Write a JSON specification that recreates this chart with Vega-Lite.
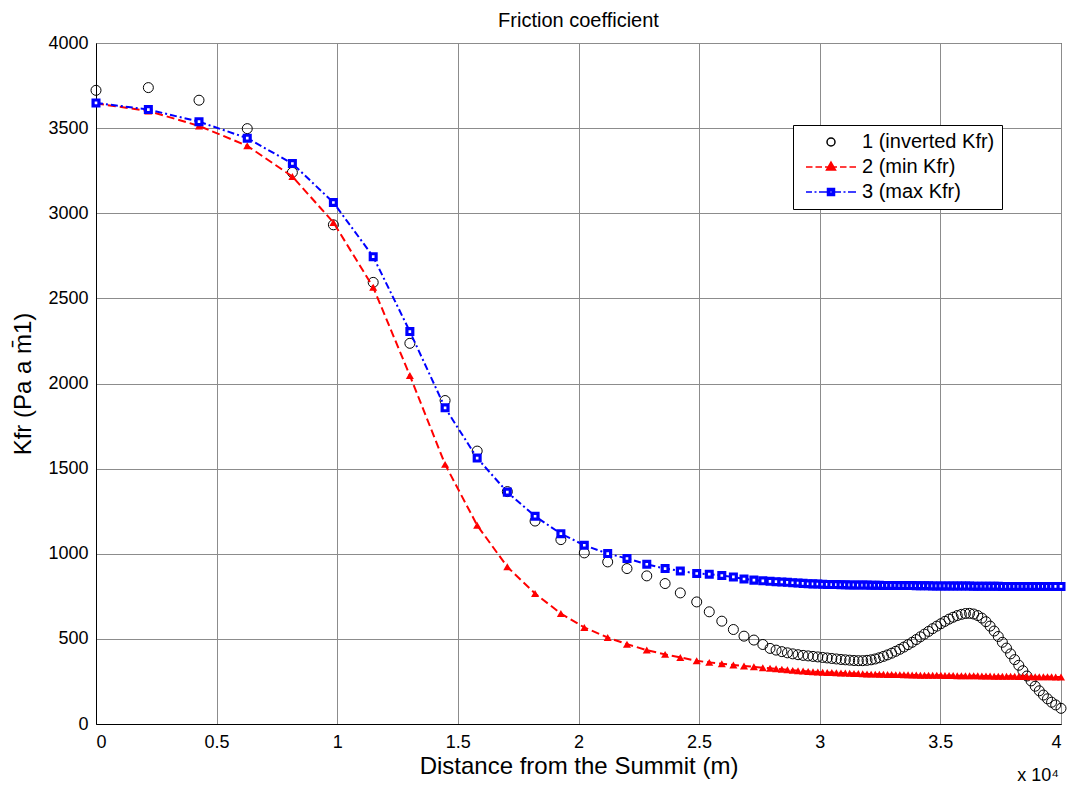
{
  "$schema": "https://vega.github.io/schema/vega-lite/v6.json",
  "width": 965,
  "height": 681,
  "autosize": {"type": "none"},
  "padding": {"left": 96, "top": 43, "right": 12, "bottom": 63},
  "background": "white",
  "title": {
    "text": "Friction coefficient",
    "font": "Liberation Sans",
    "fontSize": 20,
    "fontWeight": "normal",
    "color": "black",
    "anchor": "middle",
    "offset": 3
  },
  "config": {
    "font": "Liberation Sans",
    "view": {"stroke": "black", "strokeWidth": 1},
    "axis": {
      "grid": true,
      "gridColor": "#8c8c8c",
      "gridWidth": 1,
      "gridOpacity": 1,
      "ticks": false,
      "domainColor": "black",
      "domainWidth": 1,
      "labelFont": "Liberation Sans",
      "labelFontSize": 18,
      "labelColor": "black",
      "titleFont": "Liberation Sans",
      "titleFontSize": 24,
      "titleFontWeight": "normal",
      "titleColor": "black"
    },
    "legend": {
      "title": null,
      "orient": "none",
      "legendX": 697,
      "legendY": 82,
      "strokeColor": "black",
      "fillColor": "white",
      "padding": 7,
      "labelFont": "Liberation Sans",
      "labelFontSize": 20,
      "labelColor": "black",
      "labelLimit": 0,
      "symbolSize": 100,
      "symbolStrokeWidth": 1.5,
      "labelOffset": 42,
      "rowPadding": 5,
      "symbolOpacity": 1
    }
  },
  "datasets": {
    "kfr": [
      {"x": 0, "a": 3722, "b": 3645, "c": 3648},
      {"x": 2170, "a": 3738, "b": 3601, "c": 3609},
      {"x": 4270, "a": 3664, "b": 3513, "c": 3538},
      {"x": 6270, "a": 3497, "b": 3396, "c": 3441},
      {"x": 8140, "a": 3240, "b": 3216, "c": 3292},
      {"x": 9840, "a": 2932, "b": 2946, "c": 3063},
      {"x": 11490, "a": 2594, "b": 2565, "c": 2745},
      {"x": 13010, "a": 2236, "b": 2047, "c": 2305},
      {"x": 14470, "a": 1900, "b": 1525, "c": 1857},
      {"x": 15800, "a": 1603, "b": 1167, "c": 1562},
      {"x": 17050, "a": 1365, "b": 923, "c": 1362},
      {"x": 18200, "a": 1192, "b": 766, "c": 1220},
      {"x": 19270, "a": 1083, "b": 649, "c": 1118},
      {"x": 20240, "a": 1005, "b": 567, "c": 1050},
      {"x": 21210, "a": 952, "b": 508, "c": 1001},
      {"x": 22010, "a": 913, "b": 469, "c": 972},
      {"x": 22830, "a": 870, "b": 434, "c": 938},
      {"x": 23590, "a": 825, "b": 409, "c": 913},
      {"x": 24220, "a": 770, "b": 391, "c": 899},
      {"x": 24900, "a": 717, "b": 371, "c": 884},
      {"x": 25420, "a": 659, "b": 362, "c": 880},
      {"x": 25940, "a": 604, "b": 354, "c": 872},
      {"x": 26420, "a": 555, "b": 347, "c": 864},
      {"x": 26860, "a": 516, "b": 341, "c": 852},
      {"x": 27270, "a": 493, "b": 336, "c": 845},
      {"x": 27640, "a": 467, "b": 331, "c": 841},
      {"x": 27940, "a": 444, "b": 327, "c": 838},
      {"x": 28190, "a": 434, "b": 324, "c": 836},
      {"x": 28430, "a": 425, "b": 321, "c": 834},
      {"x": 28660, "a": 418, "b": 318, "c": 832},
      {"x": 28880, "a": 412, "b": 315, "c": 830},
      {"x": 29100, "a": 407, "b": 313, "c": 828},
      {"x": 29310, "a": 403, "b": 311, "c": 826},
      {"x": 29520, "a": 400, "b": 309, "c": 824},
      {"x": 29720, "a": 397, "b": 307, "c": 823},
      {"x": 29920, "a": 394, "b": 305, "c": 822},
      {"x": 30120, "a": 391, "b": 304, "c": 821},
      {"x": 30310, "a": 388, "b": 303, "c": 820},
      {"x": 30500, "a": 385, "b": 302, "c": 819},
      {"x": 30690, "a": 382, "b": 301, "c": 819},
      {"x": 30880, "a": 379, "b": 300, "c": 818},
      {"x": 31060, "a": 377, "b": 299, "c": 818},
      {"x": 31240, "a": 375, "b": 298, "c": 817},
      {"x": 31420, "a": 373, "b": 297, "c": 817},
      {"x": 31600, "a": 372, "b": 296, "c": 816},
      {"x": 31780, "a": 372, "b": 295, "c": 816},
      {"x": 31960, "a": 374, "b": 294, "c": 816},
      {"x": 32130, "a": 377, "b": 293, "c": 815},
      {"x": 32300, "a": 382, "b": 293, "c": 815},
      {"x": 32470, "a": 389, "b": 292, "c": 815},
      {"x": 32640, "a": 397, "b": 292, "c": 814},
      {"x": 32810, "a": 406, "b": 291, "c": 814},
      {"x": 32980, "a": 416, "b": 291, "c": 814},
      {"x": 33150, "a": 427, "b": 290, "c": 814},
      {"x": 33320, "a": 439, "b": 290, "c": 813},
      {"x": 33490, "a": 452, "b": 289, "c": 813},
      {"x": 33660, "a": 466, "b": 289, "c": 813},
      {"x": 33830, "a": 480, "b": 288, "c": 813},
      {"x": 34000, "a": 496, "b": 288, "c": 812},
      {"x": 34170, "a": 512, "b": 287, "c": 812},
      {"x": 34340, "a": 528, "b": 287, "c": 812},
      {"x": 34510, "a": 544, "b": 287, "c": 812},
      {"x": 34680, "a": 560, "b": 286, "c": 811},
      {"x": 34850, "a": 575, "b": 286, "c": 811},
      {"x": 35020, "a": 589, "b": 286, "c": 811},
      {"x": 35190, "a": 603, "b": 285, "c": 811},
      {"x": 35360, "a": 616, "b": 285, "c": 811},
      {"x": 35530, "a": 627, "b": 285, "c": 810},
      {"x": 35700, "a": 637, "b": 284, "c": 810},
      {"x": 35870, "a": 644, "b": 284, "c": 810},
      {"x": 36040, "a": 649, "b": 284, "c": 810},
      {"x": 36210, "a": 650, "b": 283, "c": 810},
      {"x": 36380, "a": 646, "b": 283, "c": 809},
      {"x": 36550, "a": 637, "b": 283, "c": 809},
      {"x": 36720, "a": 622, "b": 282, "c": 809},
      {"x": 36890, "a": 601, "b": 282, "c": 809},
      {"x": 37060, "a": 575, "b": 282, "c": 809},
      {"x": 37230, "a": 546, "b": 281, "c": 809},
      {"x": 37400, "a": 514, "b": 281, "c": 809},
      {"x": 37570, "a": 480, "b": 281, "c": 808},
      {"x": 37740, "a": 446, "b": 280, "c": 808},
      {"x": 37910, "a": 412, "b": 280, "c": 808},
      {"x": 38080, "a": 378, "b": 280, "c": 808},
      {"x": 38250, "a": 345, "b": 279, "c": 808},
      {"x": 38420, "a": 313, "b": 279, "c": 808},
      {"x": 38590, "a": 282, "b": 279, "c": 808},
      {"x": 38760, "a": 253, "b": 278, "c": 808},
      {"x": 38930, "a": 222, "b": 278, "c": 808},
      {"x": 39100, "a": 195, "b": 278, "c": 808},
      {"x": 39270, "a": 170, "b": 277, "c": 808},
      {"x": 39440, "a": 148, "b": 277, "c": 808},
      {"x": 39610, "a": 128, "b": 277, "c": 808},
      {"x": 39780, "a": 112, "b": 276, "c": 808},
      {"x": 40000, "a": 92, "b": 276, "c": 808}
    ]
  },
  "encoding": {
    "x": {
      "field": "x",
      "type": "quantitative",
      "scale": {"domain": [0, 40000], "nice": false, "zero": false},
      "axis": {
        "values": [0, 5000, 10000, 15000, 20000, 25000, 30000, 35000, 40000],
        "labelExpr": "'' + datum.value / 10000",
        "title": "Distance from the Summit (m)",
        "labelPadding": 9,
        "titlePadding": 3
      }
    }
  },
  "layer": [
    {
      "data": {"name": "kfr"},
      "mark": {"type": "point", "shape": "circle", "filled": false, "stroke": "black", "strokeWidth": 1, "size": 100, "opacity": 1},
      "encoding": {
        "y": {
          "field": "a",
          "type": "quantitative",
          "scale": {"domain": [0, 4000], "nice": false},
          "axis": {
            "values": [0, 500, 1000, 1500, 2000, 2500, 3000, 3500, 4000],
            "format": "d",
            "title": "Kfr (Pa a m\u03041)",
            "titleFontSize": 24,
            "labelPadding": 8,
            "titlePadding": 12
          }
        }
      }
    },
    {
      "data": {"name": "kfr"},
      "mark": {"type": "line", "color": "#ff0000", "strokeWidth": 2, "strokeDash": [8, 4]},
      "encoding": {"y": {"field": "b", "type": "quantitative"}}
    },
    {
      "data": {"name": "kfr"},
      "mark": {"type": "point", "shape": "triangle-up", "filled": true, "color": "#ff0000", "size": 65, "opacity": 1},
      "encoding": {"y": {"field": "b", "type": "quantitative"}}
    },
    {
      "data": {"name": "kfr"},
      "mark": {"type": "line", "color": "#0000ff", "strokeWidth": 2, "strokeDash": [7, 3, 2, 3]},
      "encoding": {"y": {"field": "c", "type": "quantitative"}}
    },
    {
      "data": {"name": "kfr"},
      "mark": {"type": "point", "shape": "square", "filled": true, "fill": "white", "stroke": "#0000ff", "strokeWidth": 3.2, "size": 34, "opacity": 1},
      "encoding": {"y": {"field": "c", "type": "quantitative"}}
    },
    {
      "data": {"values": [{"x": 40000, "t": "x 10\u2074"}]},
      "mark": {"type": "text", "align": "right", "baseline": "alphabetic", "dy": 57, "dx": -2, "fontSize": 18, "font": "Liberation Sans", "color": "black"},
      "encoding": {
        "y": {"datum": 0, "type": "quantitative"},
        "text": {"field": "t"}
      }
    },
    {
      "data": {"values": [{"s": "1 (inverted Kfr)"}, {"s": "2 (min Kfr)"}, {"s": "3 (max Kfr)"}]},
      "transform": [{"filter": "false"}],
      "mark": {"type": "point", "opacity": 1},
      "encoding": {
        "shape": {
          "field": "s",
          "type": "nominal",
          "scale": {
            "domain": ["1 (inverted Kfr)", "2 (min Kfr)", "3 (max Kfr)"],
            "range": [
              "M5,0A0.8,0.8,0,1,1,3.4,0A0.8,0.8,0,1,1,5,0Z",
              "M-0.8,0H0.5M1.1,0H2.4M3,0H5.4M6,0H7.3M7.9,0H9.2M4.2,-1L5.1,0.6L3.3,0.6Z",
              "M-0.8,0H0.4M0.9,0H1.3M1.8,0H3.5M4.9,0H6.2M6.7,0H7.1M7.6,0H9.2M3.5,-0.7H4.9V0.7H3.5ZM3.95,-0.25V0.25H4.45V-0.25Z"
            ]
          },
          "legend": {"title": null}
        },
        "stroke": {
          "field": "s",
          "type": "nominal",
          "scale": {
            "domain": ["1 (inverted Kfr)", "2 (min Kfr)", "3 (max Kfr)"],
            "range": ["#000000", "#ff0000", "#0000ff"]
          },
          "legend": {"title": null}
        },
        "fill": {
          "field": "s",
          "type": "nominal",
          "scale": {
            "domain": ["1 (inverted Kfr)", "2 (min Kfr)", "3 (max Kfr)"],
            "range": ["transparent", "#ff0000", "#0000ff"]
          },
          "legend": {"title": null}
        }
      }
    }
  ]
}
